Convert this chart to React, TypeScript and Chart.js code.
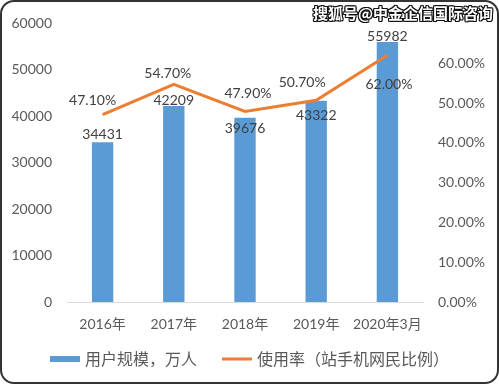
import React, { useEffect, useRef } from "react";
import { Chart, registerables } from "chart.js";

Chart.register(...registerables);

// ---- data ----
const categories = ["2016年", "2017年", "2018年", "2019年", "2020年3月"];
const userScale = [34431, 42209, 39676, 43322, 55982];
const usageRate = [47.1, 54.7, 47.9, 50.7, 62.0];
const seriesNames = ["用户规模，万人", "使用率（站手机网民比例）"];
const leftAxis = { min: 0, max: 60000, step: 10000 };
const rightAxis = { min: 0, max: 70, step: 10 };
const watermark = "搜狐号@中金企信国际咨询";

// ---- label placement (style) ----
const barLabelDy = [-7.5, -5.5, 10.5, 15, -6];
const lineLabelDx = [-10, -6, 3, -14, 1.5];
const lineLabelDy = [-14.5, -11, -18, -17.6, 29];

const FONT = 'Lato, "Noto Sans CJK SC", sans-serif';
const CJK = '"Noto Sans CJK SC", Lato, sans-serif';
const BLUE = "#5B9BD5";
const ORANGE = "#ED7D31";
const TICK = "#595959";
const LABEL = "#404040";

const labelPlugin = {
  id: "dataLabels",
  afterDatasetsDraw(chart: any) {
    const ctx = chart.ctx;
    ctx.save();
    ctx.font = "14px " + FONT;
    ctx.fillStyle = LABEL;
    ctx.textAlign = "center";
    ctx.textBaseline = "middle";
    const barMeta = chart.getDatasetMeta(0);
    barMeta.data.forEach((el: any, i: number) => {
      ctx.fillText(String(userScale[i]), el.x, el.y + barLabelDy[i]);
    });
    const lineMeta = chart.getDatasetMeta(1);
    lineMeta.data.forEach((el: any, i: number) => {
      ctx.fillText(usageRate[i].toFixed(2) + "%", el.x + lineLabelDx[i], el.y + lineLabelDy[i]);
    });
    ctx.restore();
  },
};

const legendPlugin = {
  id: "customLegend",
  afterDraw(chart: any) {
    const ctx = chart.ctx;
    ctx.save();
    ctx.font = "16px " + CJK;
    ctx.textBaseline = "middle";
    ctx.textAlign = "left";
    const boxW = 30;
    const gapText = 5;
    const gapItems = 25;
    const items = chart.data.datasets.map((d: any) => ({
      text: d.label,
      color: d.type === "line" ? d.borderColor : d.backgroundColor,
      kind: d.type === "line" ? "line" : "rect",
    }));
    const widths = items.map((it: any) => boxW + gapText + ctx.measureText(it.text).width);
    const total = widths.reduce((a: number, b: number) => a + b, 0) + gapItems * (items.length - 1);
    let x = (chart.width - total) / 2;
    const y = 359;
    items.forEach((it: any, i: number) => {
      if (it.kind === "rect") {
        ctx.fillStyle = it.color;
        ctx.fillRect(x, y - 3, boxW, 6);
      } else {
        ctx.strokeStyle = it.color;
        ctx.lineWidth = 3;
        ctx.beginPath();
        ctx.moveTo(x, y);
        ctx.lineTo(x + boxW, y);
        ctx.stroke();
      }
      ctx.fillStyle = TICK;
      ctx.fillText(it.text, x + boxW + gapText, y);
      x += widths[i] + gapItems;
    });
    ctx.restore();
  },
};

export default function App() {
  const ref = useRef<HTMLCanvasElement>(null);

  useEffect(() => {
    if (!ref.current) return;
    const chart = new Chart(ref.current, {
      type: "bar",
      data: {
        labels: categories,
        datasets: [
          {
            type: "bar",
            label: seriesNames[0],
            data: userScale,
            backgroundColor: BLUE,
            barPercentage: 0.3,
            categoryPercentage: 1,
            yAxisID: "y",
            order: 1,
          } as any,
          {
            type: "line",
            label: seriesNames[1],
            data: usageRate,
            borderColor: ORANGE,
            backgroundColor: ORANGE,
            borderWidth: 3,
            pointRadius: 0,
            tension: 0,
            yAxisID: "y1",
            order: 0,
          } as any,
        ],
      },
      options: {
        animation: false,
        responsive: false,
        layout: { padding: { top: 17, left: 0, right: 0, bottom: 0 } },
        plugins: {
          legend: { display: false },
          tooltip: { enabled: false },
        },
        scales: {
          x: {
            grid: { display: false, drawTicks: false },
            border: { display: true, color: "#D9D9D9", width: 1 },
            ticks: {
              color: TICK,
              font: { size: 14, family: FONT },
              padding: 14,
              maxRotation: 0,
              autoSkip: false,
            },
            afterFit: (s: any) => {
              s.height = 82;
            },
          },
          y: {
            position: "left",
            min: leftAxis.min,
            max: leftAxis.max,
            grid: { display: false, drawTicks: false },
            border: { display: false },
            ticks: {
              stepSize: leftAxis.step,
              color: TICK,
              font: { size: 14, family: FONT },
              padding: 15,
              callback: (v: any) => String(v),
            },
            afterFit: (s: any) => {
              s.width = 67;
            },
          },
          y1: {
            position: "right",
            min: rightAxis.min,
            max: rightAxis.max,
            grid: { display: false, drawTicks: false },
            border: { display: false },
            ticks: {
              stepSize: rightAxis.step,
              color: TICK,
              font: { size: 14, family: FONT },
              padding: 15,
              callback: (v: any) => (Number(v) >= rightAxis.max ? "" : Number(v).toFixed(2) + "%"),
            },
            afterFit: (s: any) => {
              s.width = 76;
            },
          },
        },
      } as any,
      plugins: [labelPlugin, legendPlugin],
    });
    return () => chart.destroy();
  }, []);

  const outline =
    "1px 0 0 #111, -1px 0 0 #111, 0 1px 0 #111, 0 -1px 0 #111, 1px 1px 0 #111, -1px -1px 0 #111, 1px -1px 0 #111, -1px 1px 0 #111";

  return (
    <div style={{ position: "absolute", left: 0, top: 0, width: 499, height: 384, background: "#fff" }}>
      <canvas ref={ref} width={499} height={384} style={{ position: "absolute", left: 0, top: 0, width: 499, height: 384 }} />
      <div
        style={{
          position: "absolute",
          left: 313,
          top: 2,
          font: 'bold 15px "Noto Sans CJK SC", sans-serif',
          color: "#fff",
          textShadow: outline,
          whiteSpace: "nowrap",
          letterSpacing: 0,
        }}
      >
        {watermark}
      </div>
      <div
        style={{
          position: "absolute",
          left: 0,
          top: 0,
          width: 499,
          height: 384,
          boxSizing: "border-box",
          border: "2px solid #333",
          borderRadius: 14,
          pointerEvents: "none",
        }}
      />
    </div>
  );
}
